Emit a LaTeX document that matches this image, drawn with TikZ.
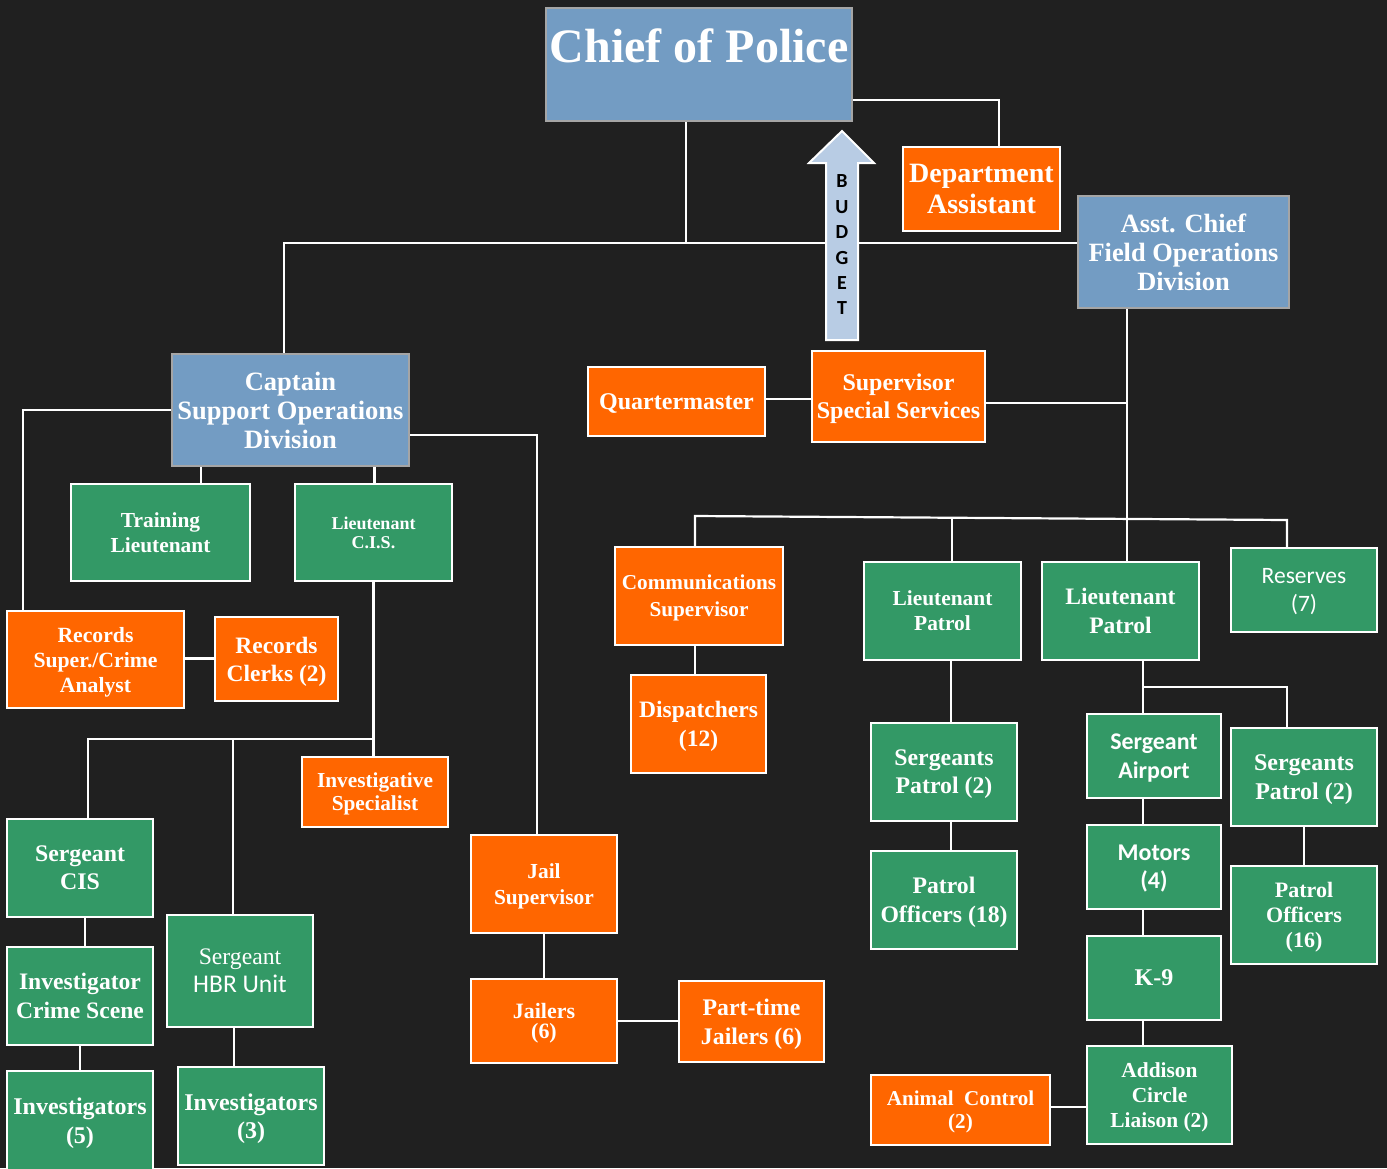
\documentclass[tikz,border=0pt]{standalone}
\usepackage{fontspec}
\setmainfont{Liberation Serif}
\newfontfamily\calfont{Carlito}
\newcommand\fsz[2]{\fontsize{#1}{#2}\selectfont}
\definecolor{bgc}{RGB}{32,32,32}
\definecolor{cblue}{RGB}{115,156,195}
\definecolor{cgrey}{RGB}{165,165,165}
\definecolor{corange}{RGB}{255,102,0}
\definecolor{cgreen}{RGB}{51,153,102}
\definecolor{cbudget}{RGB}{184,204,228}
\tikzset{
  box/.style={draw=white, line width=2.2pt, inner sep=0pt, align=center, text=white, font=\bfseries, text depth=0pt},
  bluebox/.style={box, fill=cblue, draw=cgrey},
  obox/.style={box, fill=corange},
  gbox/.style={box, fill=cgreen},
  link/.style={draw=white, line width=2.2pt},
  sz/.style n args={2}{minimum width=#1, minimum height=#2},
}
\begin{document}
\begin{tikzpicture}[x=1pt, y=-1pt]
\useasboundingbox[fill=bgc] (0,0) rectangle (1387,1168);

% helper coordinates
\coordinate (j1) at (686,243);
\coordinate (v1) at (1127,0);
\coordinate (bl) at (695,516);
\coordinate (br) at (1287,520);
\coordinate (b2) at (0,518);
\coordinate (b3) at (0,739);
\coordinate (b4) at (0,687);

% ---- nodes ----
\node[bluebox, sz={306}{113}] (chief) at (699,64.5) {\fsz{48}{52}\raisebox{2pt}[0pt][0pt]{Chief of Police}};
\node[obox, sz={157}{84}, font=\bfseries\fsz{28}{31}] (dept) at (981.5,189) {Department\\Assistant};
\node[bluebox, sz={211}{112}, font=\bfseries\fsz{26.4}{29}] (asst) at (1183.5,252) {Asst. Chief\\Field Operations\\Division};
\node[bluebox, sz={237}{112}, font=\bfseries\fsz{26.5}{29}] (cap) at (290.5,410) {Captain\\Support Operations\\Division};
\node[gbox, sz={179}{97}, font=\bfseries\fsz{21.4}{25}] (train) at (160.5,532.5) {Training\\Lieutenant};
\node[gbox, sz={157}{97}, font=\bfseries\fsz{18}{19}] (ltcis) at (373.5,532.5) {Lieutenant\\C.I.S.};
\node[obox, sz={177}{97}, font=\bfseries\fsz{21.7}{25}] (recsup) at (95.5,659.5) {Records\\Super./Crime\\Analyst};
\node[obox, sz={123}{84}, font=\bfseries\fsz{23.5}{28}] (recclk) at (276.5,659) {Records\\Clerks (2)};
\node[obox, sz={177}{69}, font=\bfseries\fsz{24}{28}] (qm) at (676.5,401.5) {Quartermaster};
\node[obox, sz={173}{91}, font=\bfseries\fsz{24}{28}] (sss) at (898.5,396.5) {Supervisor\\Special Services};
\node[obox, sz={168}{98}, font=\bfseries\fsz{21.2}{27}] (comm) at (699,596) {Communications\\Supervisor};
\node[obox, sz={135}{98}, font=\bfseries\fsz{23.5}{29}] (disp) at (698.5,724) {Dispatchers\\(12)};
\node[gbox, sz={157}{98}, font=\bfseries\fsz{21.4}{25}] (ltp1) at (942.5,611) {Lieutenant\\Patrol};
\node[gbox, sz={157}{98}, font=\bfseries\fsz{23.6}{29}] (ltp2) at (1120.5,611) {Lieutenant\\Patrol};
\node[gbox, sz={146}{84}, font=\calfont\fsz{23.5}{28}] (res) at (1304,590) {Reserves\\(7)};
\node[obox, sz={146}{70}, font=\bfseries\fsz{21.3}{23}] (invspec) at (375,792) {Investigative\\Specialist};
\node[gbox, sz={146}{98}, font=\bfseries\fsz{23.8}{28}] (sgtcis) at (80,868) {Sergeant\\CIS};
\node[gbox, sz={146}{112}, font=\fsz{23.7}{28}] (hbr) at (240,971) {Sergeant\\{\calfont\fsz{25.5}{28}HBR Unit}};
\node[gbox, sz={146}{98}, font=\bfseries\fsz{23.6}{29}] (crime) at (80,996) {Investigator\\Crime Scene};
\node[gbox, sz={146}{99}, font=\bfseries\fsz{24}{29}] (inv5) at (80,1120.5) {Investigators\\(5)};
\node[gbox, sz={146}{98}, font=\bfseries\fsz{24}{28}] (inv3) at (251,1116) {Investigators\\(3)};
\node[obox, sz={146}{98}, font=\bfseries\fsz{21.4}{26}] (jailsup) at (544,884) {Jail\\Supervisor};
\node[obox, sz={146}{84}, font=\bfseries\fsz{21.9}{20}] (jailers) at (544,1021) {Jailers\\(6)};
\node[obox, sz={145}{81}, font=\bfseries\fsz{23.8}{29}] (ptj) at (751.5,1021.5) {Part-time\\Jailers (6)};
\node[gbox, sz={146}{98}, font=\bfseries\fsz{23.8}{28}] (sgp1) at (944,772) {Sergeants\\Patrol (2)};
\node[gbox, sz={146}{98}, font=\bfseries\fsz{23.7}{29}] (po18) at (944,900) {Patrol\\Officers (18)};
\node[gbox, sz={134}{84}, font=\calfont\bfseries\fsz{23.9}{29}] (air) at (1154,756) {Sergeant\\Airport};
\node[gbox, sz={134}{84}, font=\calfont\bfseries\fsz{24}{28}] (motors) at (1154,867) {Motors\\(4)};
\node[gbox, sz={134}{84}, font=\bfseries\fsz{24}{28}] (k9) at (1154,978) {K-9};
\node[gbox, sz={145}{98}, font=\bfseries\fsz{21.4}{25}] (addison) at (1159.5,1095) {Addison\\Circle\\Liaison (2)};
\node[gbox, sz={146}{98}, font=\bfseries\fsz{24}{29}] (sgp2) at (1304,777) {Sergeants\\Patrol (2)};
\node[gbox, sz={146}{98}, font=\bfseries\fsz{22}{25}] (po16) at (1304,915) {Patrol\\Officers\\(16)};
\node[obox, sz={179}{70}, font=\bfseries\fsz{21.1}{23}] (animal) at (960.5,1110) {Animal\ \ Control\\(2)};

% ---- connectors ----
\begin{scope}[link]
% chief
\draw (chief.south -| j1) -- (j1);
\draw ([xshift=-6.5pt]cap.north) |- (asst.west |- j1);
\draw ([yshift=-35.5pt]chief.east) -| ([xshift=17.5pt]dept.north);
% asst chief
\draw (asst.south -| v1) -- (ltp2.north -| v1);
\draw ([yshift=-6.5pt]sss.east) -- ([yshift=-6.5pt]sss.east -| v1);
\draw (qm.east |- 0,399) -- (sss.west |- 0,399);
\draw (comm.north -| bl) -- (bl) -- (br) -- (res.north -| br);
\draw ([xshift=9.5pt]ltp1.north) -- ([xshift=9.5pt]ltp1.north |- b2);
\draw (comm.south -| bl) -- (disp.north -| bl);
\draw ([xshift=8.5pt]ltp1.south) -- ([xshift=8.5pt]ltp1.south |- sgp1.north);
\draw ([xshift=7pt]sgp1.south) -- ([xshift=7pt]sgp1.south |- po18.north);
\draw ([xshift=22.5pt]ltp2.south) -- ([xshift=-11pt]air.north);
\draw ([xshift=-11pt]air.north |- b4) -| ([xshift=-17pt]sgp2.north);
\draw ([xshift=-11pt]air.south) -- ([xshift=-11pt]motors.north);
\draw ([xshift=-11pt]motors.south) -- ([xshift=-11pt]k9.north);
\draw ([xshift=-11pt]k9.south) -- ([xshift=-11pt]k9.south |- addison.north);
\draw ([yshift=3pt]animal.east) -- ([yshift=3pt]animal.east -| addison.west);
\draw (sgp2.south) -- (po16.north);
% captain
\draw (cap.west) -| ([xshift=-72.5pt]recsup.north);
\draw ([xshift=40.5pt]train.north) -- ([xshift=40.5pt]train.north |- cap.south);
\draw ([xshift=1pt]ltcis.north) -- ([xshift=1pt]ltcis.north |- cap.south);
\draw ([yshift=-25pt]cap.east) -| ([xshift=-7pt]jailsup.north);
\draw ([yshift=1pt]recsup.east) -- ([yshift=1pt]recsup.east -| recclk.west);
\draw (ltcis.south) -- (ltcis.south |- invspec.north);
\draw (ltcis.south |- b3) -| ([xshift=8pt]sgtcis.north);
\draw ([xshift=-7pt]hbr.north) -- ([xshift=-7pt]hbr.north |- b3);
\draw ([xshift=5pt]sgtcis.south) -- ([xshift=5pt]crime.north);
\draw (crime.south) -- (inv5.north);
\draw ([xshift=-6pt]hbr.south) -- ([xshift=-6pt]hbr.south |- inv3.north);
\draw (jailsup.south) -- (jailers.north);
\draw (jailers.east) -- (jailers.east -| ptj.west);
\end{scope}

% ---- budget arrow ----
\draw[fill=cbudget, draw=white, line width=2pt, line join=miter]
  (826,340) -- (858,340) -- (858,163) -- (874,163) -- (842,131) -- (809,163) -- (826,163) -- cycle;
\node[font=\calfont\bfseries\fsz{20}{25.4}, text=black, align=center, inner sep=0pt] (budget) at (842,245) {B\\U\\D\\G\\E\\T};
\end{tikzpicture}
\end{document}
